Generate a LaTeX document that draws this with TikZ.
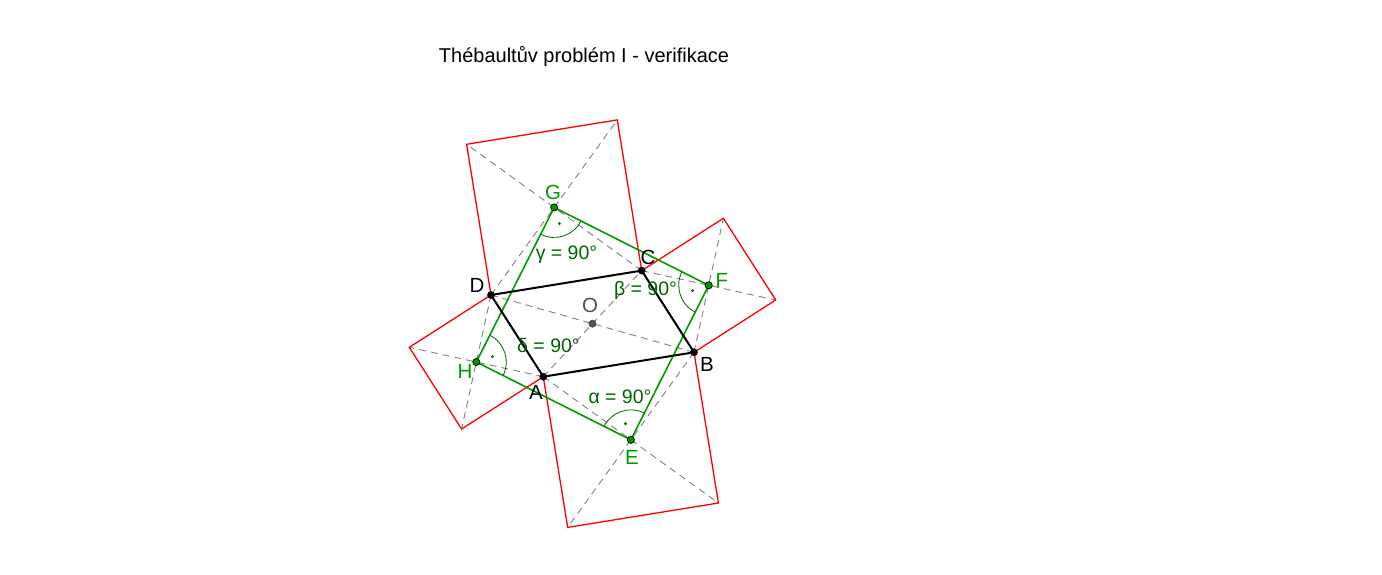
\documentclass[tikz,border=0pt]{standalone}
\usepackage{fontspec}
\setmainfont{Liberation Sans}
\usetikzlibrary{calc,angles}
\definecolor{ggred}{RGB}{255,0,0}
\definecolor{gggreen}{RGB}{0,153,0}
\definecolor{ggdark}{RGB}{0,100,0}
\definecolor{gggray}{RGB}{128,128,128}
\definecolor{ggpoint}{RGB}{80,80,80}
\tikzset{
  sqside/.style={ggred, line width=1.3pt},
  diag/.style={gggray, line width=0.9pt, dash pattern=on 7pt off 5pt},
  quad/.style={black, line width=2pt, line join=round},
  greensq/.style={gggreen, line width=1.6pt, line join=round},
  anglemark/.style={draw=ggdark, line width=0.8pt, angle radius=30pt},
  ptlabel/.style={font=\fontsize{20.5}{20.5}\selectfont, inner sep=0pt},
  anglabel/.style={ggdark, font=\fontsize{19.5}{19.5}\selectfont, inner sep=0pt},
}
\begin{document}
\begin{tikzpicture}[x=1pt,y=1pt]
    \useasboundingbox (0,0) rectangle (1382,-574);
    \node[font=\fontsize{20}{20}\selectfont, inner sep=0pt] (title) at (584,-57) {Thébaultův problém I - verifikace};

    \coordinate (A) at (543.3,-376.7);
    \coordinate (B) at (694,-352.3);
    \coordinate (D) at (491,-295);
    \coordinate (C) at ($(B)+(D)-(A)$);

    % squares on the sides, centres E F G H
    \foreach \p/\q/\m in {A/B/E, B/C/F, C/D/G, D/A/H} {
        \coordinate (\p\q1) at ($(\p)!1!-90:(\q)$);
        \coordinate (\p\q2) at ($(\q)!1!90:(\p)$);
        \draw[diag] (\p) -- (\p\q2) (\q) -- (\p\q1);
        \draw[sqside] (\p) -- (\p\q1) -- (\p\q2) -- (\q);
        \coordinate (\m) at ($(\p)!0.5!(\p\q2)$);
    }
    \coordinate (O) at ($(A)!0.5!(C)$);
    \draw[diag] (A) -- (C) (B) -- (D);

    \draw[greensq] (E) -- (F) -- (G) -- (H) -- cycle;
    \draw[quad] (A) -- (B) -- (C) -- (D) -- cycle;

    % right angle marks
    \pic[anglemark] {angle = F--E--H};
    \pic[anglemark] {angle = G--F--E};
    \pic[anglemark] {angle = H--G--F};
    \pic[anglemark] {angle = E--H--G};
    \foreach \m in {E,F,G,H}
        \fill[ggdark] ($(\m)!17pt!(O)$) circle (1.6pt);

    \foreach \m in {A,B,C,D}
        \filldraw[black] (\m) circle (3.6pt);
    \foreach \m in {E,F,G,H}
        \filldraw[fill=gggreen, draw=black, line width=0.7pt] (\m) circle (3.6pt);
    \filldraw[fill=ggpoint, draw=black!70, line width=0.7pt] (O) circle (3.6pt);

    \node[ptlabel] (lA) at (536,-392) {A};
    \node[ptlabel] (lB) at (707,-364) {B};
    \node[ptlabel] (lC) at (648,-257) {C};
    \node[ptlabel] (lD) at (477,-285) {D};
    \node[ptlabel, ggpoint] (lO) at (590,-305) {O};
    \node[ptlabel, gggreen] (lE) at (632,-457) {E};
    \node[ptlabel, gggreen] (lF) at (722,-280) {F};
    \node[ptlabel, gggreen] (lG) at (553,-192) {G};
    \node[ptlabel, gggreen] (lH) at (465,-371) {H};

    \node[anglabel] (alpha) at (620,-397) {α = 90°};
    \node[anglabel] (beta) at (645.5,-290) {β = 90°};
    \node[anglabel] (gamma) at (566.5,-255) {γ = 90°};
    \node[anglabel] (delta) at (548.5,-346) {δ = 90°};
\end{tikzpicture}
\end{document}
